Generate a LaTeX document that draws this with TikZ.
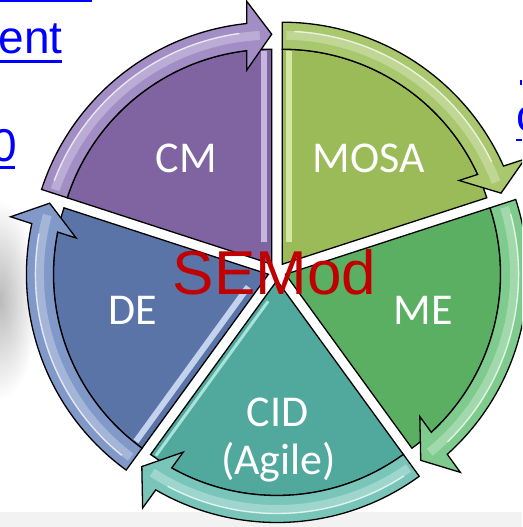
\documentclass[tikz,border=0pt]{standalone}
\usepackage{fontspec}
\setmainfont{Carlito}
\newfontfamily\arialfont{Liberation Sans}

\definecolor{cmFill}{HTML}{8064A2}
\definecolor{cmBand}{HTML}{A28DC5}
\definecolor{cmGlint}{HTML}{D9CCF0}
\definecolor{mosaFill}{HTML}{9BBB59}
\definecolor{mosaBand}{HTML}{A9C76C}
\definecolor{mosaGlint}{HTML}{E2F2B4}
\definecolor{meFill}{HTML}{5BAF63}
\definecolor{meBand}{HTML}{7FCB8D}
\definecolor{cidFill}{HTML}{50A99C}
\definecolor{cidBand}{HTML}{79C5BA}
\definecolor{cidGlint}{HTML}{BFF2EA}
\definecolor{deFill}{HTML}{5B74A8}
\definecolor{deBand}{HTML}{8199C9}
\definecolor{deGlint}{HTML}{D6E4FA}
\definecolor{linkblue}{HTML}{0000FF}
\definecolor{semodred}{HTML}{C00000}

% curved arrow band of one segment, in the segment's own frame:
% the band runs from 72 deg down to the arrow tip on the 0 deg edge
\newcommand\bandoutline{(72:242) arc[start angle=72,end angle=5.93,radius=242]
  -- (263,25) -- (230,0) -- (194,25)
  -- (6.68:215) arc[start angle=6.68,end angle=72,radius=215] -- cycle}

% #1 bisector angle, #2 end angle, #3 wedge colour, #4 band colour, #5 extra glints
\newcommand\cyclepart[5]{%
  \begin{scope}[shift={(277,255.5)},shift={(#1:9)},rotate=#2]
    \draw[segline,fill=#3] (0,0) -- (0:215) arc[start angle=0,end angle=72,radius=215] -- cycle;
    #5
    \begin{scope}
      \clip \bandoutline;
      \fill[#4] \bandoutline;
      \draw[white,opacity=.28,line width=9pt] (71:229) arc[start angle=71,end angle=3,radius=229];
      \draw[white,opacity=.7,line width=1.4pt] (69:233) arc[start angle=69,end angle=8,radius=233];
    \end{scope}
    \draw[segline] \bandoutline;
  \end{scope}}

\begin{document}
\begin{tikzpicture}[x=1pt,y=1pt,
  segline/.style={draw=black,line width=1.3pt,line join=miter},
  seglabel/.style={text=white,font=\fontsize{44}{48}\selectfont,inner sep=0pt,anchor=base},
  linkfrag/.style={text=linkblue,font=\arialfont\fontsize{46}{50}\selectfont,inner sep=0pt,anchor=base west}]
\useasboundingbox (0,0) rectangle (522,527);
\begin{scope}
  \clip (0,0) rectangle (522,527);
  % backdrop
  \fill[white] (0,0) rectangle (522,527);
  \fill[black!5] (0,0) rectangle (522,15);
  \shade[inner color=black!27,outer color=white] (0,227) ellipse [x radius=38,y radius=100];

  % link text at the page edges
  \fill[linkblue] (0,524.5) rectangle (92,527);
  \node[linkfrag] (frag1) at (-1.5,473.7) {ent};
  \fill[linkblue] (0,464) rectangle (62,467);
  \node[linkfrag] (frag2) at (-8.4,365) {0};
  \fill[linkblue] (0,357.5) rectangle (15,360.5);
  \node[linkfrag] (frag3) at (516.5,395) {c};
  \fill[linkblue] (516,386) rectangle (522,388);
  \fill[linkblue] (519.5,442) rectangle (521.5,447);

  % the five segments of the cycle
  \cyclepart{126}{90}{cmFill}{cmBand}{%
    \draw[cmGlint,opacity=.8,line width=6pt] (22,8) -- (213,8);}
  \cyclepart{54}{18}{mosaFill}{mosaBand}{%
    \draw[mosaGlint,opacity=.8,line width=6pt,rotate=72] (22,-7) -- (213,-7);}
  \cyclepart{-18}{-54}{meFill}{meBand}{}
  \cyclepart{-90}{-126}{cidFill}{cidBand}{%
    \draw[cidGlint,opacity=.8,line width=3pt] (22,5) -- (213,5);}
  \cyclepart{-162}{-198}{deFill}{deBand}{%
    \draw[deGlint,opacity=.85,line width=6pt,rotate=72] (22,-9) -- (213,-9);}

  % segment labels
  \node[seglabel] (cm) at (186.5,354) {CM};
  \node[seglabel] (mosa) at (369,354) {MOSA};
  \node[seglabel] (me) at (423.5,202) {ME};
  \node[seglabel] (de) at (132.5,202) {DE};
  \node[seglabel] (cid) at (277.5,100) {CID};
  \node[seglabel] (agile) at (278.5,52) {(Agile)};

  % title in the middle
  \node[text=semodred,font=\arialfont\fontsize{62}{66}\selectfont,inner sep=0pt,anchor=base] (semod) at (274.5,232) {SEMod};
\end{scope}
\end{tikzpicture}
\end{document}
